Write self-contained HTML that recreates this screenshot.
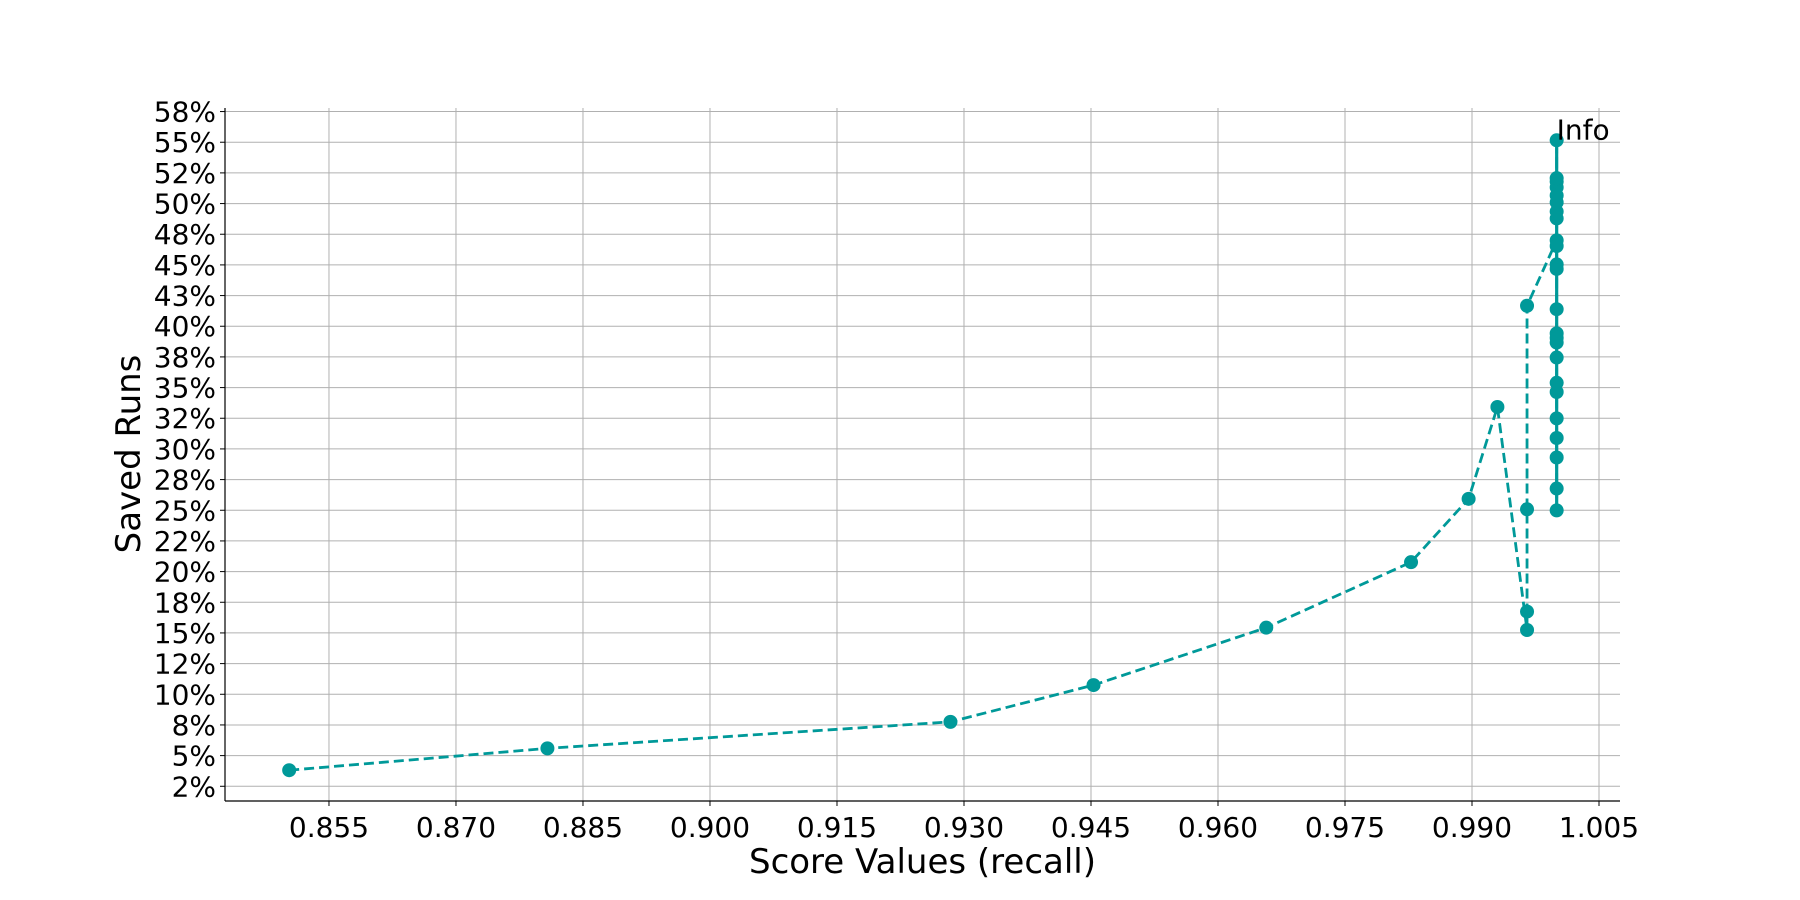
<!DOCTYPE html>
<html><head><meta charset="utf-8"><style>
html,body{margin:0;padding:0;background:#fff;}
svg{display:block;font-family:"DejaVu Sans","Liberation Sans",sans-serif;}
</style></head><body>
<svg id="chart" width="1800" height="900" viewBox="0 0 1800 900" xmlns="http://www.w3.org/2000/svg"></svg>
<script>
const xTicks = [0.855,0.870,0.885,0.900,0.915,0.930,0.945,0.960,0.975,0.990,1.005];
const xTickLabels = ["0.855","0.870","0.885","0.900","0.915","0.930","0.945","0.960","0.975","0.990","1.005"];
const yTicks = [2.5,5,7.5,10,12.5,15,17.5,20,22.5,25,27.5,30,32.5,35,37.5,40,42.5,45,47.5,50,52.5,55,57.5];
const yTickLabels = ["2%","5%","8%","10%","12%","15%","18%","20%","22%","25%","28%","30%","32%","35%","38%","40%","43%","45%","48%","50%","52%","55%","58%"];
const recallValues = [0.8503,0.8808,0.9284,0.9453,0.9657,0.9828,0.9896,0.9930,0.9965,0.9965,0.9965,0.9965,
  1,1,1,1,1,1,1,1,1,1,1,1,1,1,1,1,1,1,1,1,1,1,1,1];
const savedValues = [3.81,5.59,7.75,10.75,15.43,20.77,25.93,33.42,15.24,16.74,25.08,41.67,
  47.0,46.54,45.04,44.67,48.79,49.35,50.1,50.66,51.32,51.79,52.07,55.16,41.39,39.42,39.05,38.67,37.45,35.39,34.64,32.49,30.89,29.3,26.77,24.99];
const annotationText = "Info";

const L=225,R=1620,T=108,B=801;
const xMin=0.84272,xMax=1.00748,yMin=1.30,yMax=57.79;
const X=v=>L+(v-xMin)/(xMax-xMin)*(R-L);
const Y=v=>B-(v-yMin)/(yMax-yMin)*(B-T);
const NS="http://www.w3.org/2000/svg";
const svg=document.getElementById('chart');
function mk(tag,attrs,parent){const e=document.createElementNS(NS,tag);for(const k in attrs)e.setAttribute(k,attrs[k]);(parent||svg).appendChild(e);return e;}

const grid=mk('g',{});


xTicks.forEach((t,i)=>{
  const x=X(t);
  const gl=mk('line',{x1:x,x2:x,y1:T,y2:B,stroke:'#b0b0b0','stroke-width':1},grid);
  
  
  const tk=mk('line',{x1:x,x2:x,y1:B,y2:B+5,stroke:'#000','stroke-width':1});
  
  
  const tx=mk('text',{x:x,y:B+36,'font-size':28,'text-anchor':'middle',fill:'#000'});
  tx.textContent=xTickLabels[i];
  
  
});
yTicks.forEach((t,i)=>{
  const y=Y(t);
  const gl=mk('line',{x1:L,x2:R,y1:y,y2:y,stroke:'#b0b0b0','stroke-width':1},grid);
  
  
  const tk=mk('line',{x1:L-5,x2:L,y1:y,y2:y,stroke:'#000','stroke-width':1});
  
  
  const tx=mk('text',{x:L-9,y:y+10,'font-size':28,'text-anchor':'end',fill:'#000'});
  tx.textContent=yTickLabels[i];
  
  
});
const ax1=mk('line',{x1:L,x2:L,y1:T,y2:B,stroke:'#000','stroke-width':1.2});


const ax2=mk('line',{x1:L,x2:R,y1:B,y2:B,stroke:'#000','stroke-width':1.2});



const color='#009999';
const maxX=Math.max(...recallValues);
const topVals=savedValues.filter((v,i)=>recallValues[i]===maxX);
const solid=mk('line',{x1:X(maxX),x2:X(maxX),y1:Y(Math.min(...topVals)),y2:Y(Math.max(...topVals)),stroke:color,'stroke-width':3.2});


const pts=recallValues.map((v,i)=>X(v)+','+Y(savedValues[i])).join(' ');
const pl=mk('polyline',{points:pts,fill:'none',stroke:color,'stroke-width':2.8,'stroke-dasharray':'10,5'});


recallValues.forEach((v,i)=>{
  const c=mk('circle',{cx:X(v),cy:Y(savedValues[i]),r:7,fill:color});
  
  
});
let mi=0;savedValues.forEach((v,i)=>{if(v>savedValues[mi])mi=i;});
const ann=mk('text',{x:X(recallValues[mi]),y:Y(savedValues[mi])-1,'font-size':28,fill:'#000'});
ann.textContent=annotationText;



const xl=mk('text',{x:(L+R)/2,y:873,'font-size':34,'text-anchor':'middle',fill:'#000'});
xl.textContent='Score Values (recall)';


const yl=mk('text',{x:0,y:0,'font-size':34,'text-anchor':'middle',fill:'#000',transform:'translate(140,454) rotate(-90)'});
yl.textContent='Saved Runs';


</script>
</body></html>
